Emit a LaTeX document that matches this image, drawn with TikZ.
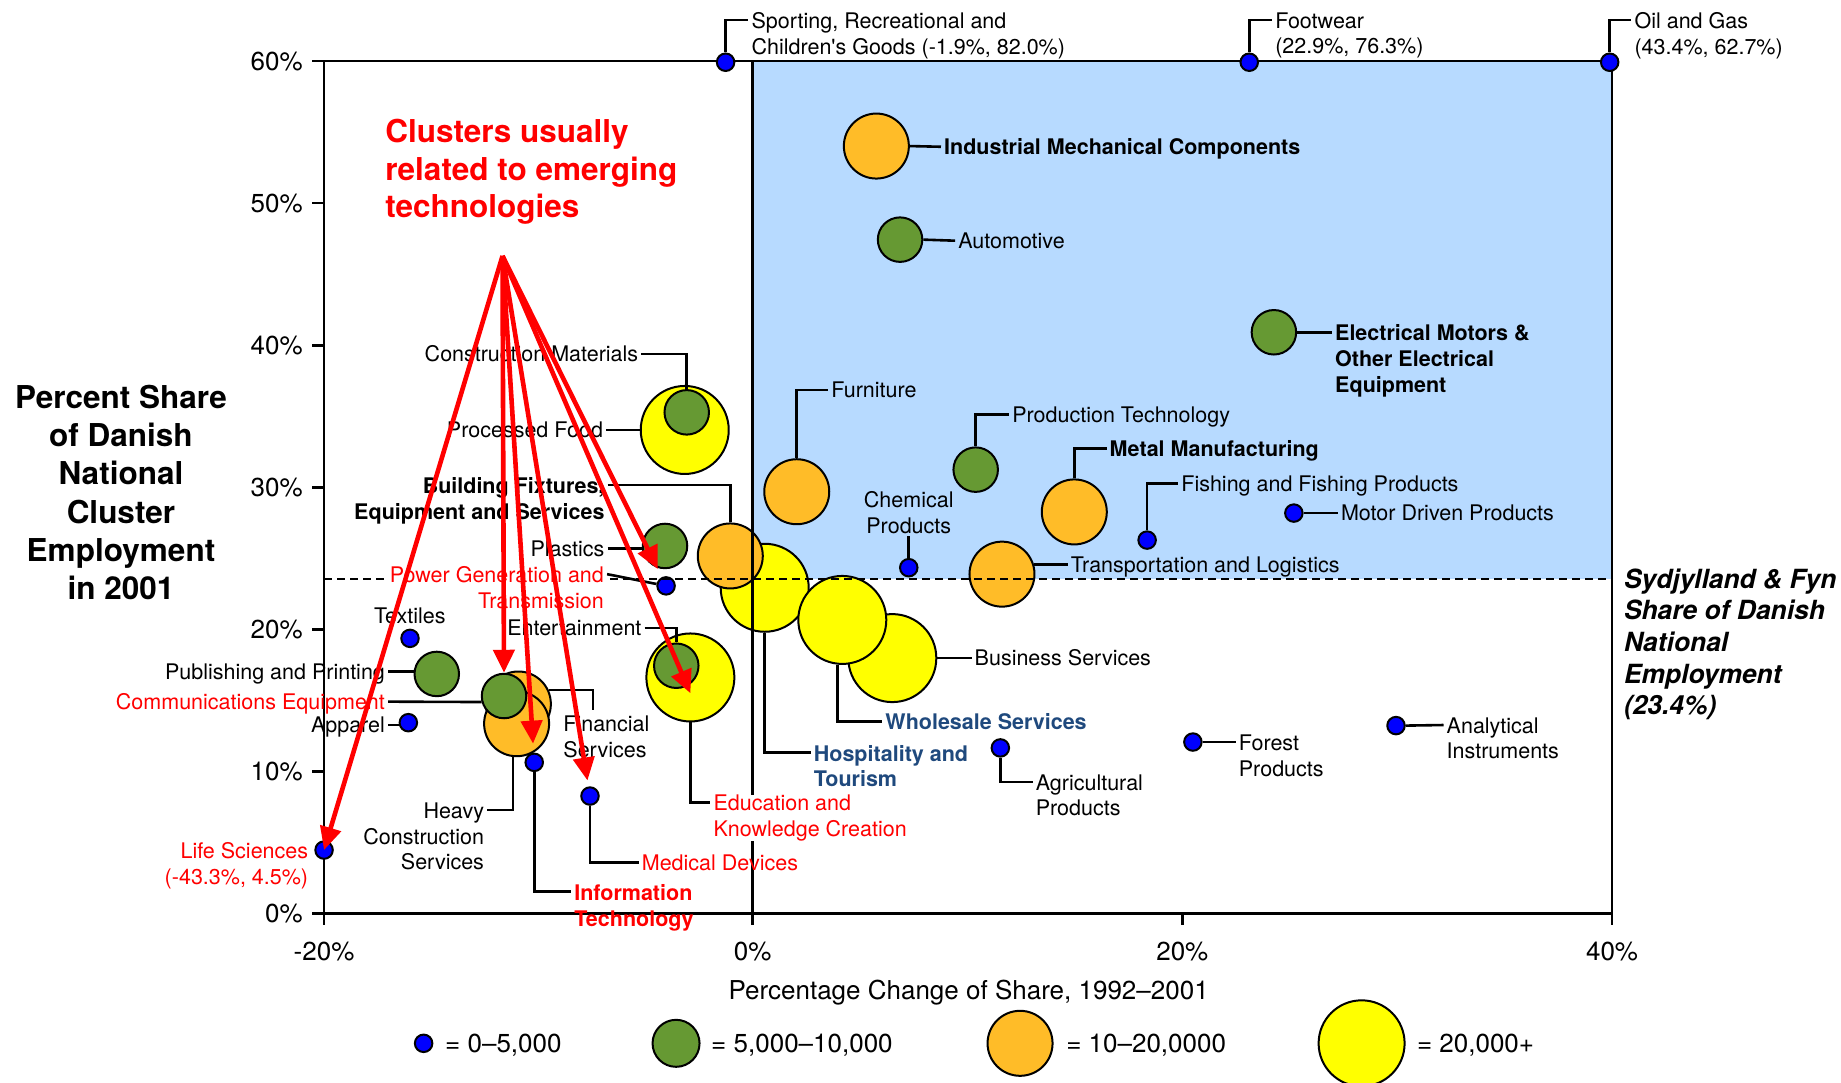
\documentclass[tikz,border=0pt]{standalone}
\usepackage{fontspec}
\setmainfont{TeX Gyre Heros}
\usetikzlibrary{arrows.meta,calc}
\definecolor{cblue}{RGB}{0,0,255}
\definecolor{cgreen}{RGB}{102,153,51}
\definecolor{corange}{RGB}{255,188,40}
\definecolor{cyellow}{RGB}{255,255,0}
\definecolor{cbg}{RGB}{183,218,255}
\definecolor{cdark}{RGB}{31,73,125}
\definecolor{cred}{RGB}{255,0,0}
\begin{document}
\begin{tikzpicture}[x=1.17411pt,y=-1.17411pt,
  bub/.style={circle,draw=black,line width=2pt,inner sep=0pt},
  bsm/.style={bub,fill=cblue,minimum size=17.5pt},
  bgr/.style={bub,fill=cgreen,minimum size=44.5pt},
  bor/.style={bub,fill=corange,minimum size=65pt},
  bye/.style={bub,fill=cyellow,minimum size=88pt},
  lab/.style={font=\fontsize{21.5}{25.8}\selectfont,inner xsep=3pt,inner ysep=0pt},
  bfont/.style={font=\fontsize{21.5}{25.8}\selectfont\bfseries},
  lab1/.style={lab,text height=15.4pt,text depth=0pt},
  lw/.style={lab1,anchor=west,xshift=-3pt},
  le/.style={lab1,anchor=east,xshift=3pt},
  mw/.style={lab,align=left,anchor=north west,xshift=-3pt,yshift=7.7pt},
  me/.style={lab,align=right,anchor=north east,xshift=3pt,yshift=7.7pt},
  leader/.style={draw=black,line width=2.6pt},
  frame/.style={draw=black,line width=2.7pt},
  tick/.style={font=\fontsize{26}{31}\selectfont,inner sep=0pt,text height=18.7pt,text depth=0pt},
  arr/.style={draw=cred,line width=4.6pt,-{Triangle[length=23pt,width=21pt]}}
]
\useasboundingbox (0,0) rectangle (1568,922);
% background region
\fill[cbg] (641,52) rectangle (1373,493);
% frame
\draw[frame] (276,52) -- (1373,52) -- (1373,778);
\draw[frame] (276,52) -- (276,778) -- (1373,778);
\foreach \yy in {52,173,294,415,536,657,778} \draw[frame] (266,\yy) -- (276,\yy);
\foreach \xx in {276,1007,1373} \draw[frame] (\xx,778) -- (\xx,788);
% tick labels
\foreach \yy/\t in {52/60,173/50,294/40,415/30,536/20,657/10,778/0}
  \node[tick,anchor=east] (yt\t) at (258,\yy) {\t\%};
\node[tick] (xtA) at (276,810) {-20\%};
\node[tick] (xtB) at (641,810) {0\%};
\node[tick] (xtC) at (1007,810) {20\%};
\node[tick] (xtD) at (1373,810) {40\%};
\node[tick] (xtitle) at (825,843) {Percentage Change of Share, 1992–2001};
\node[font=\fontsize{31.5}{38.3}\selectfont\bfseries,align=center,inner sep=0pt] (ytitle) at (103,419.5)
  {Percent Share\\of Danish\\National\\Cluster\\Employment\\in 2001};
\node[font=\fontsize{31.5}{37.6}\selectfont\bfseries,text=cred,align=left,anchor=north west,inner sep=0pt] (title) at (328,101.4)
  {Clusters usually\\related to emerging\\technologies};
\node[font=\fontsize{26.4}{31.7}\selectfont\bfseries\itshape,align=left,anchor=north west,inner sep=0pt] (reflab) at (1383,484)
  {Sydjylland \& Fyn\\Share of Danish\\National\\Employment\\(23.4\%)};
% bubbles
\node[bye] (bpfood) at (583.2,366.2) {};
\node[bgr] (bcmat) at (584.9,351.2) {};
\node[bye] (bedu) at (588,577) {};
\node[bgr] (bent) at (576,567) {};
\node[bye] (bhosp) at (651.3,500.6) {};
\node[bye] (bbus) at (760,560.5) {};
\node[bye] (bwhole) at (717.4,528) {};
\node[bor] (bbfix) at (622,473.5) {};
\node[bor] (bfin) at (441.5,599.6) {};
\node[bor] (bheavy) at (440,616.4) {};
\node[bgr] (bcomm) at (429.3,592.8) {};
\node[bor] (bindmech) at (746.4,124.4) {};
\node[bgr] (bauto) at (766.6,204.1) {};
\node[bgr] (belec) at (1085,283) {};
\node[bor] (bfurn) at (678.6,418.8) {};
\node[bgr] (bprod) at (831,400) {};
\node[bor] (bmetal) at (915,436) {};
\node[bor] (btransp) at (853.4,489) {};
\node[bgr] (bplast) at (566.4,465) {};
\node[bgr] (bpub) at (372,574) {};
\node[bsm] (bsport) at (618,53) {};
\node[bsm] (bfoot) at (1064,53) {};
\node[bsm] (boil) at (1371,53) {};
\node[bsm] (bfish) at (977,460) {};
\node[bsm] (bmotor) at (1102,437) {};
\node[bsm] (bchem) at (774,483.5) {};
\node[bsm] (bagri) at (852,637) {};
\node[bsm] (bforest) at (1016,632) {};
\node[bsm] (banal) at (1189,618) {};
\node[bsm] (bpower) at (567.3,499) {};
\node[bsm] (btex) at (349.2,543.7) {};
\node[bsm] (bapp) at (347.8,615.5) {};
\node[bsm] (bit) at (455,649.3) {};
\node[bsm] (bmed) at (502.5,678) {};
\node[bsm] (blife) at (276,724) {};
% zero line and national share line
\draw[frame] (641,52) -- (641,788);
\draw[draw=black,line width=2.5pt,dash pattern=on 8pt off 5pt] (276,493) -- (1373,493);
% labels
\node[mw] (lsport) at (640,17) {Sporting, Recreational and\\Children\textquotesingle s Goods (-1.9\%, 82.0\%)};
\node[mw] (lfoot) at (1086,17) {Footwear\\(22.9\%, 76.3\%)};
\node[mw] (loil) at (1392,17) {Oil and Gas\\(43.4\%, 62.7\%)};
\node[lw,bfont] (lindmech) at (804,125) {Industrial Mechanical Components};
\node[lw] (lauto) at (816,205) {Automotive};
\node[mw,bfont] (lelec) at (1137,283) {Electrical Motors \&\\Other Electrical\\Equipment};
\node[lw] (lfurn) at (708,332) {Furniture};
\node[lw] (lprod) at (862,353) {Production Technology};
\node[lw,bfont] (lmetal) at (945,382) {Metal Manufacturing};
\node[lw] (lfish) at (1006,412) {Fishing and Fishing Products};
\node[lw] (lmotor) at (1142,437) {Motor Driven Products};
\node[lab,align=center,anchor=south,inner ysep=2pt] (lchem) at (774,456.7) {Chemical\\Products};
\node[lw] (ltransp) at (912,481) {Transportation and Logistics};
\node[lw] (lbus) at (830,560.5) {Business Services};
\node[lw,bfont,text=cdark] (lwhole) at (754,614.5) {Wholesale Services};
\node[mw,bfont,text=cdark] (lhosp) at (693,641) {Hospitality and\\Tourism};
\node[mw] (lagri) at (882,666) {Agricultural\\Products};
\node[mw] (lforest) at (1055,632) {Forest\\Products};
\node[mw] (lanal) at (1232,617.5) {Analytical\\Instruments};
\node[le] (lcmat) at (543.7,301.5) {Construction Materials};
\node[le] (lpfood) at (513.7,366.2) {Processed Food};
\node[me,bfont] (lbfix) at (515,413) {Building Fixtures,\\Equipment and Services};
\node[le] (lplast) at (515,467) {Plastics};
\node[me,text=cred,fill=white] (lpower) at (514.5,489) {Power Generation and\\Transmission};
\node[lab1] (ltex) at (349,524.7) {Textiles};
\node[le] (lent) at (546.5,535) {Entertainment};
\node[le] (lpub) at (328,572) {Publishing and Printing};
\node[le,text=cred] (lcomm) at (328,597.6) {Communications Equipment};
\node[le] (lapp) at (328,617.5) {Apparel};
\node[mw] (lfin) at (479.7,616) {Financial\\Services};
\node[me] (lheavy) at (412.4,690) {Heavy\\Construction\\Services};
\node[mw,text=cred,fill=white] (ledu) at (607.6,683.4) {Education and\\Knowledge Creation};
\node[lw,text=cred] (lmed) at (546.5,734.8) {Medical Devices};
\node[mw,bfont,text=cred] (lit) at (489,759.5) {Information\\Technology};
\node[me,text=cred] (llife) at (262.6,724) {Life Sciences\\(-43.3\%, 4.5\%)};
% leaders
\draw[leader] (bsport) |- ([yshift=-7.7pt]lsport.north west);
\draw[leader] (bfoot) |- ([yshift=-7.7pt]lfoot.north west);
\draw[leader] (boil) |- ([yshift=-7.7pt]loil.north west);
\draw[leader] (bindmech.east) -- (lindmech.west);
\draw[leader] (bauto.east) -- (lauto.west);
\draw[leader] (belec.east) -- ([yshift=-7.7pt]lelec.north west);
\draw[leader] (bfurn.north) |- (lfurn.west);
\draw[leader] (bprod.north) |- (lprod.west);
\draw[leader] (bmetal.north) |- (lmetal.west);
\draw[leader] (bfish.north) |- (lfish.west);
\draw[leader] (bmotor.east) -- (lmotor.west);
\draw[leader] (bchem.north) -- (lchem.south);
\draw[leader] (btransp.17) -- (btransp.17 -| ltransp.west);
\draw[leader] (bbus.east) -- (lbus.west);
\draw[leader] (bwhole.264) |- (lwhole.west);
\draw[leader] (bhosp.south) |- ([yshift=-7.7pt]lhosp.north west);
\draw[leader] (bagri.south) |- ([yshift=-7.7pt]lagri.north west);
\draw[leader] (bforest.east) -- ([yshift=-7.7pt]lforest.north west);
\draw[leader] (banal.east) -- ([yshift=-7.7pt]lanal.north west);
\draw[leader] (lcmat.east) -| (bcmat.north);
\draw[leader] (lpfood.east) -- (bpfood.west);
\draw[leader] ([yshift=-7.7pt]lbfix.north east) -| (bbfix.north);
\draw[leader] (lplast.east) -- (lplast.east -| bplast.west);
\draw[leader] ([yshift=-7.7pt]lpower.north east) -- (bpower);
\draw[leader] (lent.east) -| (bent.north);
\draw[leader] (lpub.east) -- (lpub.east -| bpub.west);
\draw[leader] (lcomm.east) -- (bcomm.195);
\draw[leader] (lapp.east) -- (lapp.east -| bapp.west);
\draw[leader] (bfin.25) -| ($(lfin.north west)+(28,-4.4)$);
\draw[leader] (bheavy.264) |- ([yshift=-7.7pt]lheavy.north east);
\draw[leader] (bedu.south) |- ([yshift=-7.7pt]ledu.north west);
\draw[leader] (bmed.south) |- (lmed.west);
\draw[leader] (bit.south) |- ([yshift=-7.7pt]lit.north west);
% arrows
\coordinate (orig) at (428,218);
\draw[arr] (orig) -- (blife.center);
\draw[arr] (orig) -- (bcomm);
\draw[arr,shorten >=9pt] (orig) -- (bit);
\draw[arr,shorten >=6pt] (orig) -- (bmed);
\draw[arr] (orig) -- ($(bedu.center)!0.35!(bedu.south)$);
\draw[arr,shorten >=9pt] (orig) -- (bpower);
% legend
\node[bsm] (lg1) at (360.8,888.6) {};
\node[tick,anchor=west] (lgt1) at (379,888.6) {= 0–5,000};
\node[bgr,minimum size=47pt] (lg2) at (575.8,888.6) {};
\node[tick,anchor=west] (lgt2) at (605.6,888.6) {= 5,000–10,000};
\node[bor] (lg3) at (868.8,888.6) {};
\node[tick,anchor=west] (lgt3) at (908,888.6) {= 10–20,0000};
\node[bye,minimum size=86pt] (lg4) at (1159.7,888.6) {};
\node[tick,anchor=west] (lgt4) at (1206.7,888.6) {= 20,000+};
\end{tikzpicture}
\end{document}
